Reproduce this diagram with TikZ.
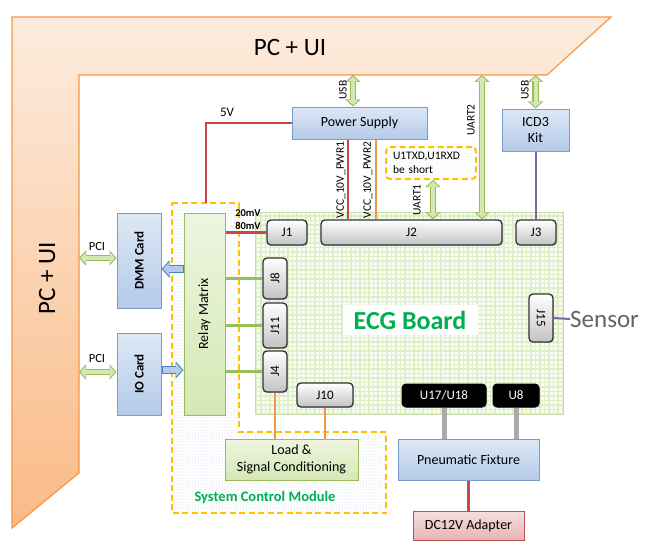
\documentclass[tikz,border=0pt]{standalone}
\usepackage{fontspec}
\setmainfont{Carlito}
\usepackage{graphicx}
\usetikzlibrary{arrows.meta,patterns,shadows}

\definecolor{pcedge}{RGB}{247,150,70}
\definecolor{pctop}{RGB}{253,236,222}
\definecolor{pcbot}{RGB}{250,186,134}
\definecolor{blueedge}{RGB}{120,156,206}
\definecolor{bluetop}{RGB}{222,232,245}
\definecolor{bluebot}{RGB}{180,202,232}
\definecolor{greenedge}{RGB}{155,187,89}
\definecolor{greentop}{RGB}{238,245,224}
\definecolor{greenbot}{RGB}{212,232,180}
\definecolor{rededge}{RGB}{192,80,77}
\definecolor{redtop}{RGB}{244,224,223}
\definecolor{redbot}{RGB}{232,180,180}
\definecolor{jedge}{RGB}{50,50,50}
\definecolor{jbot}{RGB}{195,195,195}
\definecolor{busfill}{RGB}{212,232,180}
\definecolor{blockfill}{RGB}{180,204,234}
\definecolor{blockedge}{RGB}{79,129,189}
\definecolor{wirered}{RGB}{205,70,70}
\definecolor{wireorange}{RGB}{240,150,70}
\definecolor{wirepurple}{RGB}{128,100,170}
\definecolor{wiregreen}{RGB}{150,190,90}
\definecolor{wiregray}{RGB}{170,170,170}
\definecolor{scmyellow}{RGB}{255,192,0}
\definecolor{scmdot}{RGB}{190,205,234}
\definecolor{notedot}{RGB}{190,226,190}
\definecolor{boardfill}{RGB}{250,253,245}
\definecolor{boardgrid}{RGB}{222,238,200}
\definecolor{boardedge}{RGB}{200,222,165}
\definecolor{ecggreen}{RGB}{0,176,80}
\definecolor{sensorgray}{RGB}{100,100,100}

\tikzset{
  box/.style={draw, line width=1pt, inner sep=0pt, align=center,
    font=\fontsize{14}{16.5}\selectfont,
    drop shadow={shadow xshift=1.2pt, shadow yshift=-1.2pt, opacity=0.25}},
  bluebox/.style={box, draw=blueedge, top color=bluetop, bottom color=bluebot},
  greenbox/.style={box, draw=greenedge, top color=greentop, bottom color=greenbot},
  redbox/.style={box, draw=rededge, top color=redtop, bottom color=redbot},
  jbox/.style={box, draw=jedge, line width=1.3pt, rounded corners=4pt,
    top color=white, bottom color=jbot, font=\fontsize{13}{15}\selectfont},
  chipbox/.style={box, draw=black, fill=black, text=white, rounded corners=4pt,
    font=\fontsize{13}{15}\selectfont},
  lbl/.style={inner sep=0pt, font=\fontsize{11.5}{13}\selectfont},
  mvlbl/.style={inner sep=0pt, font=\bfseries\fontsize{10.5}{12}\selectfont},
  redwire/.style={draw=wirered, line width=2.2pt},
  orangewire/.style={draw=wireorange, line width=2pt},
  purplewire/.style={draw=wirepurple, line width=2pt},
  greenwire/.style={draw=wiregreen, line width=2.5pt},
  graywire/.style={draw=wiregray, line width=5pt},
  busarrow/.style={draw=greenedge, line width=6.5pt,
    {Triangle[width=15pt,length=7pt]}-{Triangle[width=15pt,length=7pt]},
    postaction={draw=busfill, line width=4pt, shorten <=1.5pt, shorten >=1.5pt,
      {Triangle[width=11pt,length=5pt]}-{Triangle[width=11pt,length=5pt]}}},
  blockarrow/.style={draw=blockedge, line width=8pt,
    -{Triangle[width=17pt,length=8pt]},
    postaction={draw=blockfill, line width=5.6pt, shorten <=1pt, shorten >=1.5pt,
      -{Triangle[width=13pt,length=6pt]}}},
  scmarea/.style={draw=scmyellow, line width=2pt, dash pattern=on 6pt off 3.5pt,
    pattern=dots, pattern color=scmdot},
  notebox/.style={draw=scmyellow, line width=2pt, dash pattern=on 6pt off 3.5pt,
    rounded corners=4pt, pattern=dots, pattern color=notedot, inner sep=0pt,
    align=left, font=\fontsize{11.5}{14}\selectfont},
}

\begin{document}
\begin{tikzpicture}[x=1pt,y=-1pt]
  \useasboundingbox (0,0) rectangle (660,559);

  % PC + UI frame
  \shadedraw[top color=pctop, bottom color=pcbot, draw=pcedge, line width=1.2pt]
    (12,17) -- (611,17) -- (547,75) -- (79,75) -- (79,473) -- (12,528) -- cycle;
  \node[font=\fontsize{25}{28}\selectfont] (pctop) at (290,47) {PC + UI};
  \node[font=\fontsize{25}{28}\selectfont, rotate=90] (pcleft) at (47,278) {PC + UI};
  \coordinate (band) at (79,75);

  % system control module area
  \filldraw[fill=white, draw=none] (172,203) -- (239,203) -- (239,432) -- (386,432) -- (386,513) -- (172,513) -- cycle;
  \filldraw[scmarea] (172,203) -- (239,203) -- (239,432) -- (386,432) -- (386,513) -- (172,513) -- cycle;
  \node[text=ecggreen, font=\bfseries\fontsize{14.5}{17}\selectfont] (scm) at (265,498) {System Control Module};

  % ECG board
  \fill[boardfill] (255,212) rectangle (563,414);
  \draw[boardgrid, line width=1.3pt, step=4.5pt] (255,212) grid (563,414);
  \draw[boardedge, line width=1pt] (255,212) rectangle (563,414);
  \node[fill=white, minimum width=135pt, minimum height=30pt, inner sep=0pt,
    text=ecggreen, font=\bfseries\fontsize{26}{30}\selectfont] (ecg) at (410,320) {ECG Board};

  % boxes
  \node[bluebox, minimum width=135pt, minimum height=32pt] (power) at (359.5,123) {Power Supply};
  \node[bluebox, minimum width=67pt, minimum height=42pt] (icd) at (535.5,130) {ICD3\\Kit};
  \node[notebox, minimum width=90pt, minimum height=32pt, text width=76pt] (note) at (431,163) {U1TXD,U1RXD\\be short};
  \node[greenbox, minimum width=41pt, minimum height=202pt] (relay) at (204.5,314) {\rotatebox{90}{Relay Matrix}};
  \node[bluebox, minimum width=44pt, minimum height=95pt, font=\bfseries\fontsize{13}{15}\selectfont] (dmm) at (139,260.5) {\rotatebox{90}{DMM Card}};
  \node[bluebox, minimum width=44pt, minimum height=82pt, font=\bfseries\fontsize{13}{15}\selectfont] (io) at (139,374) {\rotatebox{90}{IO Card}};
  \node[greenbox, minimum width=133pt, minimum height=41pt] (load) at (291.5,459.5) {Load \&\\Signal Conditioning};
  \node[bluebox, minimum width=141pt, minimum height=41pt] (pneu) at (468.5,459.5) {Pneumatic Fixture};
  \node[redbox, minimum width=111pt, minimum height=29pt] (dc) at (468.5,525.5) {DC12V Adapter};

  % connectors on the board
  \node[jbox, minimum width=40pt, minimum height=25pt] (j1) at (287,232.5) {J1};
  \node[jbox, minimum width=181pt, minimum height=25pt] (j2) at (411.5,232.5) {J2};
  \node[jbox, minimum width=40pt, minimum height=25pt] (j3) at (536,232.5) {J3};
  \node[jbox, minimum width=24pt, minimum height=41pt] (j8) at (275,278.5) {\rotatebox{90}{J8}};
  \node[jbox, minimum width=24pt, minimum height=45pt] (j11) at (275,325.5) {\rotatebox{90}{J11}};
  \node[jbox, minimum width=24pt, minimum height=41pt] (j4) at (275,371.5) {\rotatebox{90}{J4}};
  \node[jbox, minimum width=56pt, minimum height=24pt] (j10) at (325,395) {J10};
  \node[jbox, minimum width=24pt, minimum height=48pt] (j15) at (541,318) {\rotatebox{-90}{J15}};
  \node[chipbox, minimum width=84pt, minimum height=23pt] (u17) at (444,395.5) {U17/U18};
  \node[chipbox, minimum width=46pt, minimum height=23pt] (u8) at (516,395.5) {U8};
  \node[anchor=west, inner sep=0pt, text=sensorgray, font=\fontsize{25}{28}\selectfont] (sensor) at (570,319) {Sensor};

  % wires
  \coordinate (fivev) at (206,203);
  \draw[redwire] (power.west) -| (fivev);
  \node[lbl, font=\fontsize{13}{15}\selectfont] (fivevlbl) at (227,112) {5V};
  \coordinate (pwra) at (348,0);
  \coordinate (pwrb) at (376,0);
  \draw[redwire] (power.south -| pwra) -- (j2.north -| pwra);
  \draw[orangewire] (power.south -| pwrb) -- (j2.north -| pwrb);
  \node[lbl, rotate=90] (pwralbl) at (341,180) {VCC\_10V\_PWR1};
  \node[lbl, rotate=90] (pwrblbl) at (368,180) {VCC\_10V\_PWR2};
  \draw[purplewire] (icd.south) -- (icd.south |- j3.north);
  \draw[redwire] (j1.west) -- (j1.west -| relay.east);
  \node[mvlbl] (mva) at (248,213) {20mV};
  \node[mvlbl] (mvb) at (248,226) {80mV};
  \draw[greenwire] (j8.west) -- (j8.west -| relay.east);
  \draw[greenwire] (j11.west) -- (j11.west -| relay.east);
  \draw[greenwire] (j4.west) -- (j4.west -| relay.east);
  \draw[orangewire] (j4.south) -- (j4.south |- load.north);
  \draw[orangewire] (j10.south) -- (j10.south |- load.north);
  \draw[graywire] (u17.south) -- (u17.south |- pneu.north);
  \draw[graywire] (u8.south) -- (u8.south |- pneu.north);
  \draw[redwire] (pneu.south) -- (dc.north);
  \draw[purplewire] (j15.east) -- (sensor.west);

  % buses
  \coordinate (usba) at (353,0);
  \coordinate (uarta) at (433,0);
  \coordinate (uartb) at (482,0);
  \draw[busarrow] (band -| usba) -- (power.north -| usba);
  \node[lbl, rotate=90] (usbalbl) at (343,90) {USB};
  \draw[busarrow] (band -| icd.north) -- (icd.north);
  \node[lbl, rotate=90] (usbblbl) at (525,90) {USB};
  \draw[busarrow] (band -| uartb) -- (j2.north -| uartb);
  \node[lbl, rotate=90] (uartblbl) at (471,120) {UART2};
  \draw[busarrow] (note.south -| uarta) -- (j2.north -| uarta);
  \node[lbl, rotate=90] (uartalbl) at (417,200) {UART1};
  \draw[busarrow] ([yshift=2.5pt]dmm.west -| band) -- ([yshift=2.5pt]dmm.west);
  \node[lbl, font=\fontsize{12.5}{14}\selectfont] (pcialbl) at (97,246) {PCI};
  \draw[busarrow] ([yshift=2pt]io.west -| band) -- ([yshift=2pt]io.west);
  \node[lbl, font=\fontsize{12.5}{14}\selectfont] (pciblbl) at (97,358) {PCI};
  \draw[blockarrow] ([yshift=-8.5pt]dmm.east -| relay.west) -- ([yshift=-8.5pt]dmm.east);
  \draw[blockarrow] ([yshift=4pt]io.east) -- ([yshift=4pt]io.east -| relay.west);
\end{tikzpicture}
\end{document}
